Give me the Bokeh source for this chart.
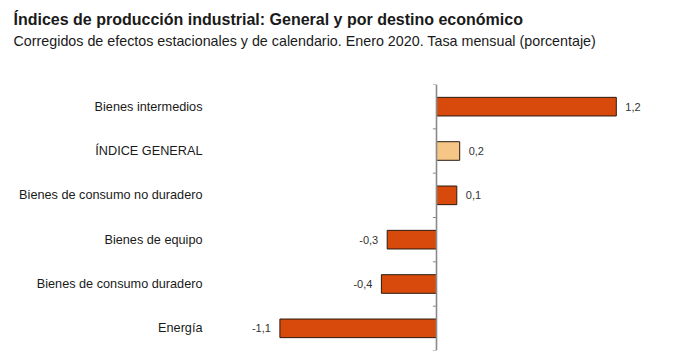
from bokeh.plotting import figure
from bokeh.models import FactorRange, Range1d, Span, Title, ColumnDataSource
from bokeh.embed import file_html
from bokeh.resources import INLINE

# Data (top to bottom as in reference)
categories = [
    "Bienes intermedios",
    "ÍNDICE GENERAL",
    "Bienes de consumo no duradero",
    "Bienes de equipo",
    "Bienes de consumo duradero",
    "Energía",
]
values = [1.24, 0.16, 0.14, -0.34, -0.38, -1.08]
highlight = "ÍNDICE GENERAL"

main_color = "#D74A0C"
light_color = "#F5C685"

labels = [f"{v:.1f}".replace(".", ",") for v in values]
colors = [light_color if c == highlight else main_color for c in categories]

pos = [i for i, v in enumerate(values) if v >= 0]
neg = [i for i, v in enumerate(values) if v < 0]

def sub(idx):
    return ColumnDataSource(dict(
        cat=[categories[i] for i in idx],
        val=[values[i] for i in idx],
        lab=[labels[i] for i in idx],
    ))

src = ColumnDataSource(dict(cat=categories, val=values, color=colors))

FONT = "Liberation Sans"

p = figure(
    width=672, height=352,
    y_range=FactorRange(factors=list(reversed(categories)), range_padding=0),
    x_range=Range1d(-1.5586, 1.5724),
    output_backend="svg", toolbar_location=None, title=None,
    min_border_left=210, min_border_right=8, min_border_bottom=2, min_border_top=10,
)
p.outline_line_color = None
p.xgrid.visible = False
p.ygrid.visible = False
p.xaxis.visible = False

p.yaxis.axis_line_color = None
p.yaxis.major_tick_line_color = None
p.yaxis.minor_tick_line_color = None
p.yaxis.major_label_standoff = 2
p.yaxis.major_label_text_font = FONT
p.yaxis.major_label_text_font_size = "12.7px"
p.yaxis.major_label_text_color = "#1a1a1a"

p.hbar(y="cat", right="val", left=0, height=0.42, source=src,
       fill_color="color", line_color="#2a1a10", line_width=1)

# zero axis and tick marks at category boundaries
p.add_layout(Span(location=0, dimension="height", line_color="#8a8a8a", line_width=1.6))
bounds = list(range(len(categories) + 1))
p.segment(x0=[-0.025] * len(bounds), x1=[0] * len(bounds), y0=bounds, y1=bounds,
          line_color="#8a8a8a", line_width=1)

p.text(x="val", y="cat", text="lab", source=sub(pos), x_offset=9,
       text_align="left", text_baseline="middle", text_font_size="11px",
       text_color="#333333", text_font={"value": FONT})
p.text(x="val", y="cat", text="lab", source=sub(neg), x_offset=-9,
       text_align="right", text_baseline="middle", text_font_size="11px",
       text_color="#333333", text_font={"value": FONT})

spacer = Title(text=" ", text_font=FONT, text_font_size="1px", standoff=39)
subtitle = Title(text="Corregidos de efectos estacionales y de calendario. Enero 2020. Tasa mensual (porcentaje)",
                 text_font=FONT, text_font_size="14.3px", text_font_style="normal",
                 text_color="#1a1a1a", align="left", offset=-197, standoff=-12)
title = Title(text="Índices de producción industrial: General y por destino económico",
              text_font=FONT, text_font_size="16px", text_font_style="bold",
              text_color="#1a1a1a", align="left", offset=-197, standoff=17)
p.add_layout(spacer, "above")
p.add_layout(subtitle, "above")
p.add_layout(title, "above")

open("out.html", "w").write(file_html(p, INLINE))
